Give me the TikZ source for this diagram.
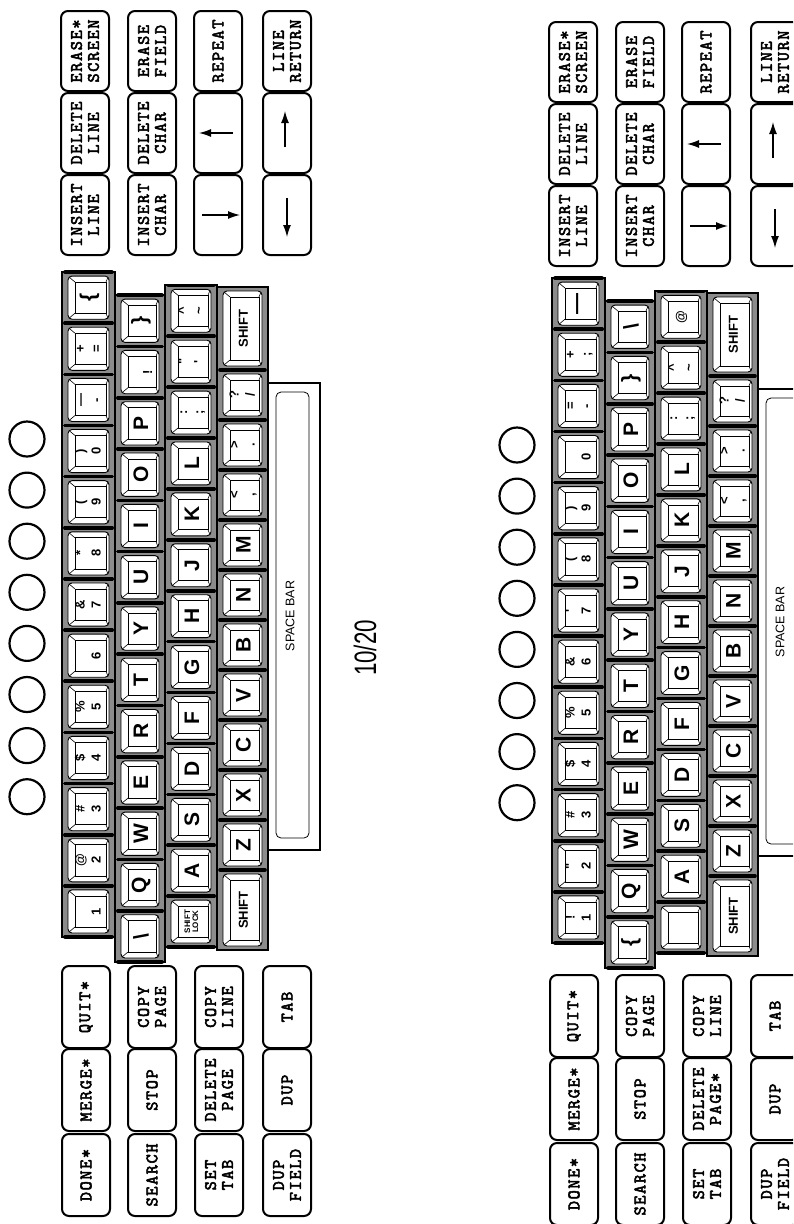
\documentclass[tikz,border=0pt]{standalone}
\usepackage{fontspec}
\newfontfamily\capfont{Liberation Sans}
\newfontfamily\keyfont{lmmono10-regular.otf}[FakeBold=3,LetterSpace=9]
\usetikzlibrary{
    arrows.meta,
    calc
}

\tikzset{
    keyband/.style={draw, line width=2.4pt, fill=black!45},
    keybase/.style={draw, line width=0.9pt, rounded corners=4pt, fill=white},
    keytop/.style={draw, line width=0.7pt},
    keyedge/.style={line width=0.6pt},
    keysep/.style={line width=3.6pt, line cap=round},
    keylabel/.style={rotate=90, inner sep=0pt, font=\capfont\bfseries\fontsize{21}{21}\selectfont},
    barlabel/.style={rotate=90, inner sep=0pt, font=\capfont\fontsize{12.5}{12.5}\selectfont},
    fkey/.style={draw, line width=2pt, rounded corners=7pt, rotate=90, minimum width=80pt,
        minimum height=48pt, inner sep=1pt, align=center, font=\keyfont\fontsize{17.5}{17}\selectfont},
    cursor/.style={line width=1.3pt, -{Latex[length=12pt,width=8pt]}},
    knob/.style={draw, circle, line width=2.2pt, minimum size=35pt, inner sep=0pt}
}

% labels on the typing keys
\newcommand{\twokey}[2]{\fontsize{13}{16}\selectfont
    \begin{tabular}{@{}c@{}}#1\\#2\end{tabular}}
\newcommand{\tinykey}[2]{\fontsize{8}{10}\selectfont
    \begin{tabular}{@{}c@{}}#1\\[-2pt]#2\end{tabular}}
\newcommand{\shiftkey}{\fontsize{13}{13}\selectfont SHIFT}

% one key cap: x0, x1, y top, y bottom, label, name
\newcommand{\keycap}[6]{%
    \draw[keybase] ({#1+6},{#3+4}) rectangle ({#2-6},{#4-4});
    \draw[keytop] ({#1+13},{#3+10}) rectangle ({#2-9},{#4-10});
    \draw[keyedge]
        ({#1+7},{#3+5}) -- ({#1+13},{#3+10})
        ({#2-7},{#3+5}) -- ({#2-9},{#3+10})
        ({#1+7},{#4-5}) -- ({#1+13},{#4-10})
        ({#2-7},{#4-5}) -- ({#2-9},{#4-10});
    \node[keylabel] (#6) at ({(#1+#2+2)/2},{(#3+#4)/2}) {#5};
}

% a row of equal keys: x0, x1, y bottom, pitch, labels, name prefix
\newcommand{\keyrow}[6]{%
    \foreach \lab [count=\i] in {#5} {
        \pgfmathsetmacro{\ytop}{#3-\i*#4}
        \pgfmathsetmacro{\ybot}{#3-(\i-1)*#4}
        \keycap{#1}{#2}{\ytop}{\ybot}{\lab}{#6\i}
        \draw[keysep] ({#1+3},\ybot) -- ({#2-3},\ybot);
        \draw[keysep] ({#1+3},\ytop) -- ({#2-3},\ytop);
    }
}

% the eight round lamps
\newcommand{\knobrow}[1]{%
    \foreach \k in {0,...,7} {
        \node[knob] (knob#1\k) at (27,{439+51.1*\k}) {};
    }
}

% typing keys: suffix, number row, top row, home row, lower row
\newcommand{\keyboard}[5]{%
    \draw[keyband] (62,272) rectangle (115,937);
    \draw[keyband] (115,295) rectangle (165,962);
    \draw[keyband] (165,285) rectangle (217,947);
    \draw[keyband] (217,287) rectangle (268,950);
    \keyrow{62}{115}{937}{51.15}{#2}{num#1-}
    \keyrow{115}{165}{962}{51.3}{#3}{top#1-}
    \keyrow{165}{217}{947}{50.9}{#4}{home#1-}
    \keycap{217}{268}{870}{950}{\shiftkey}{lshift#1}
    \keyrow{217}{268}{870}{50}{#5}{low#1-}
    \keycap{217}{268}{287}{370}{\shiftkey}{rshift#1}
    \draw[keyband, fill=white] (268,383) rectangle (320,850);
    \draw[line width=0.8pt, rounded corners=5pt] (276,392) rectangle (309,838);
    \node[barlabel] (bar#1) at (290,616) {SPACE BAR};
    \knobrow{#1}
}

% editing block
\newcommand{\editkeys}[1]{%
    \foreach \cx/\cy/\txt/\nm in {
        85/51/{ERASE*\\SCREEN}/erscr,
        85/133/{DELETE\\LINE}/delln,
        85/215/{INSERT\\LINE}/insln,
        152/51/{ERASE\\FIELD}/ersfd,
        152/133/{DELETE\\CHAR}/delch,
        152/215/{INSERT\\CHAR}/insch,
        218/51/{REPEAT}/rept,
        218/133/{}/kup,
        218/215/{}/kdown,
        287/51/{LINE\\RETURN}/lnret,
        287/133/{}/kright,
        287/215/{}/kleft} {
        \node[fkey] (\nm#1) at (\cx,\cy) {\txt};
    }
    \draw[cursor] ($(kup#1)+(15,0)$) -- ($(kup#1)+(-19,0)$);
    \draw[cursor] ($(kdown#1)+(-16,0)$) -- ($(kdown#1)+(22,0)$);
    \draw[cursor] ($(kright#1)+(-2,14)$) -- ($(kright#1)+(-2,-22)$);
    \draw[cursor] ($(kleft#1)+(0,-17)$) -- ($(kleft#1)+(0,22)$);
}

% command block: suffix, delete page label
\newcommand{\commandkeys}[2]{%
    \foreach \cx/\cy/\txt/\nm in {
        86/1007/{QUIT*}/quit,
        86/1090/{MERGE*}/merge,
        86/1175/{DONE*}/done,
        152/1007/{COPY\\PAGE}/cppg,
        152/1090/{STOP}/stop,
        152/1175/{SEARCH}/srch,
        219/1007/{COPY\\LINE}/cpln,
        219/1090/{#2}/delpg,
        219/1175/{SET\\TAB}/settab,
        287/1007/{TAB}/tab,
        287/1090/{DUP}/dup,
        287/1175/{DUP\\FIELD}/dupfd} {
        \node[fkey, minimum width=82pt] (\nm#1) at (\cx,\cy) {\txt};
    }
}

\begin{document}
\begin{tikzpicture}[x=1pt,y=-1pt]
%
    \useasboundingbox (0,0) rectangle (793,1224);
    \fill[white] (0,0) rectangle (793,1224);
    \clip (0,0) rectangle (793,1224);
%
    % left keyboard
    \keyboard{a}
        {{\twokey{}{1}}, {\twokey{@}{2}}, {\twokey{\#}{3}}, {\twokey{\$}{4}}, {\twokey{\%}{5}},
         {\twokey{}{6}}, {\twokey{\&}{7}}, {\twokey{*}{8}}, {\twokey{(}{9}}, {\twokey{)}{0}},
         {\twokey{\textemdash}{-}}, {\twokey{+}{=}}, {\{}}
        {{\textbackslash}, Q, W, E, R, T, Y, U, I, O, P, {\twokey{}{!}}, {\}}}
        {{\tinykey{SHIFT}{LOCK}}, A, S, D, F, G, H, J, K, L, {\twokey{:}{;}}, {\twokey{"}{'}},
         {\twokey{\textasciicircum}{\textasciitilde}}}
        {Z, X, C, V, B, N, M, {\twokey{<}{,}}, {\twokey{>}{.}}, {\twokey{?}{/}}}
    \editkeys{a}
    \commandkeys{a}{DELETE\\PAGE}
%
    \node[rotate=90, inner sep=0pt, font=\capfont\fontsize{31}{31}\selectfont] (sheet)
        at (365,648) {\scalebox{0.72}[1]{10/20}};
%
    % right keyboard
    \begin{scope}[shift={(490,6)}]
        \keyboard{b}
            {{\twokey{!}{1}}, {\twokey{"}{2}}, {\twokey{\#}{3}}, {\twokey{\$}{4}}, {\twokey{\%}{5}},
             {\twokey{\&}{6}}, {\twokey{'}{7}}, {\twokey{(}{8}}, {\twokey{)}{9}}, {\twokey{}{0}},
             {\twokey{=}{-}}, {\twokey{+}{;}}, {\textemdash}}
            {{\{}, Q, W, E, R, T, Y, U, I, O, P, {\}}, {\textbackslash}}
            {{\relax}, A, S, D, F, G, H, J, K, L, {\twokey{:}{;}},
             {\twokey{\textasciicircum}{\textasciitilde}}, {\twokey{@}{}}}
            {Z, X, C, V, B, N, M, {\twokey{<}{,}}, {\twokey{>}{.}}, {\twokey{?}{/}}}
    \end{scope}
    \begin{scope}[shift={(488,11)}]
        \editkeys{b}
    \end{scope}
    \begin{scope}[shift={(488,9)}]
        \commandkeys{b}{DELETE\\PAGE*}
    \end{scope}
%
\end{tikzpicture}
\end{document}
